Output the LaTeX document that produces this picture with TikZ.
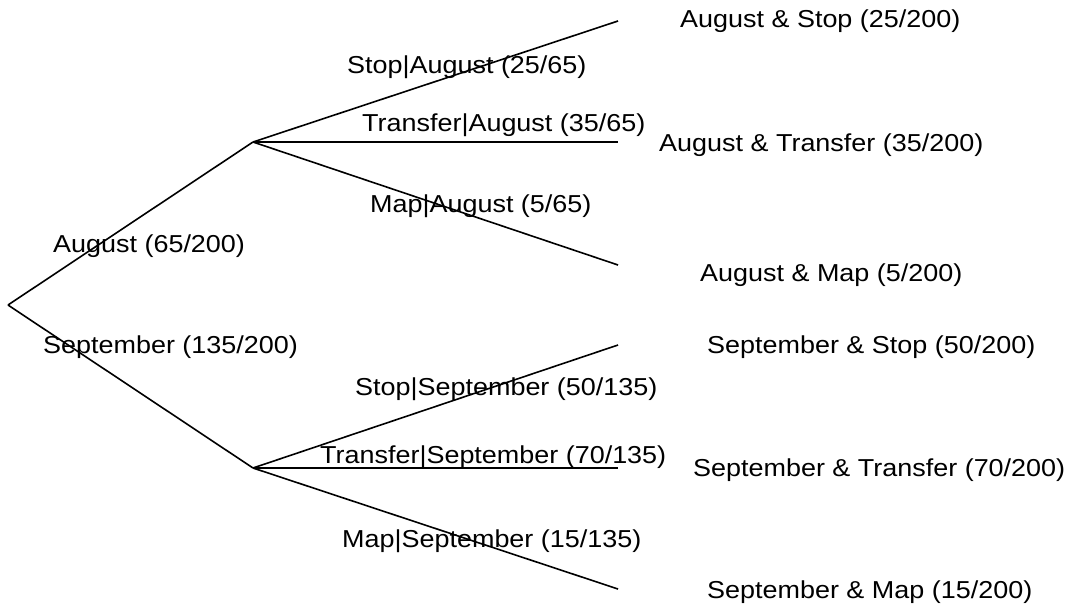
\documentclass[tikz,border=0pt]{standalone}
\usepackage{fontspec}
\setmainfont{Liberation Sans}[FakeStretch=1.1]
\begin{document}
\begin{tikzpicture}[x=1pt,y=-1pt,
  edge/.style={line width=1.6pt,black},
  lbl/.style={anchor=base west,inner sep=0pt,font=\fontsize{24.5}{28}\selectfont}]
\useasboundingbox (0,0) rectangle (1073,603);
% tree points
\coordinate (root) at (8,305);
\coordinate (aug) at (253,142);
\coordinate (sep) at (253,468);
\coordinate (as) at (618,21);
\coordinate (at) at (618,142);
\coordinate (am) at (618,265);
\coordinate (ss) at (618,345);
\coordinate (st) at (618,468);
\coordinate (sm) at (618,589);
% branches
\draw[edge] (root) -- (aug);
\draw[edge] (root) -- (sep);
\draw[edge] (aug) -- (as);
\draw[edge] (aug) -- (at);
\draw[edge] (aug) -- (am);
\draw[edge] (sep) -- (ss);
\draw[edge] (sep) -- (st);
\draw[edge] (sep) -- (sm);
% first-level labels
\node[lbl] (laug) at (53,252) {August (65/200)};
\node[lbl] (lsep) at (43,353) {September (135/200)};
% conditional labels
\node[lbl] (las) at (347,73) {Stop|August (25/65)};
\node[lbl] (lat) at (362,131) {Transfer|August (35/65)};
\node[lbl] (lam) at (370,212) {Map|August (5/65)};
\node[lbl] (lss) at (355,395) {Stop|September (50/135)};
\node[lbl] (lst) at (320,463) {Transfer|September (70/135)};
\node[lbl] (lsm) at (342,547) {Map|September (15/135)};
% leaf labels
\node[lbl] (jas) at (680,27) {August \& Stop (25/200)};
\node[lbl] (jat) at (659,151) {August \& Transfer (35/200)};
\node[lbl] (jam) at (700,281) {August \& Map (5/200)};
\node[lbl] (jss) at (707,353) {September \& Stop (50/200)};
\node[lbl] (jst) at (693,476) {September \& Transfer (70/200)};
\node[lbl] (jsm) at (707,598) {September \& Map (15/200)};
\end{tikzpicture}
\end{document}
